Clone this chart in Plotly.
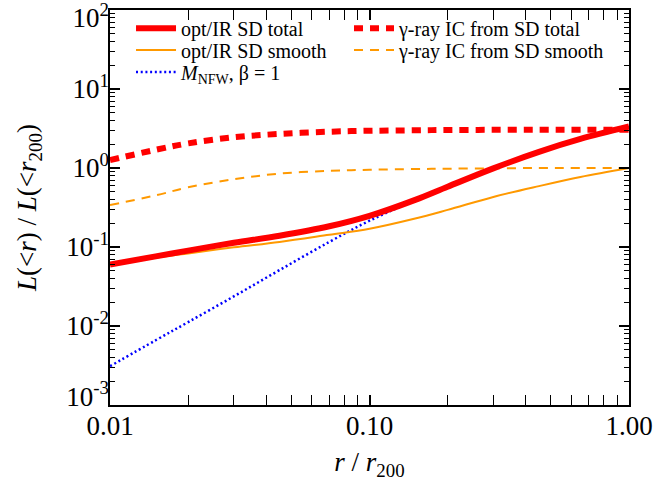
import plotly.graph_objects as go

# ---- data ----
r = [0.01, 0.015, 0.02, 0.03, 0.045, 0.07, 0.1, 0.15, 0.2, 0.3, 0.45, 0.65, 1.0]
opt_total = [0.060, 0.076, 0.090, 0.113, 0.139, 0.183, 0.248, 0.395, 0.58, 0.99, 1.60, 2.33, 3.35]
opt_smooth = [0.059, 0.073, 0.083, 0.099, 0.116, 0.143, 0.170, 0.229, 0.295, 0.43, 0.59, 0.77, 1.0]
gamma_total = [1.26, 1.70, 2.05, 2.45, 2.70, 2.88, 2.96, 3.00, 3.03, 3.04, 3.05, 3.05, 3.05]
gamma_smooth = [0.34, 0.45, 0.57, 0.72, 0.85, 0.92, 0.95, 0.97, 0.98, 0.99, 1.0, 1.0, 1.0]
nfw = [0.0031, 0.0066, 0.0112, 0.0237, 0.051, 0.116, 0.215, 0.39, 0.57, 0.98, 1.58, 2.3, 3.3]

x_tickvals = [0.01, 0.1, 1.0]
x_ticktext = ["0.01", "0.10", "1.00"]
y_exponents = [-3, -2, -1, 0, 1, 2]

RED = "#ff0000"
ORANGE = "#ff9900"
BLUE = "#0000ff"
FONT = "Liberation Serif"

fig = go.Figure()
fig.add_trace(go.Scatter(x=r, y=nfw, mode="lines", name="<i>M</i><sub>NFW</sub>, β = 1",
                         line=dict(color=BLUE, width=2.5, dash="2px,2.7px"), line_shape="spline",
                         legend="legend3"))
fig.add_trace(go.Scatter(x=r, y=opt_smooth, mode="lines", name="opt/IR SD smooth",
                         line=dict(color=ORANGE, width=2), line_shape="spline",
                         legend="legend2"))
fig.add_trace(go.Scatter(x=r, y=gamma_smooth, mode="lines", name="γ-ray IC from SD smooth",
                         line=dict(color=ORANGE, width=2, dash="9px,7px"), line_shape="spline",
                         legend="legend5"))
fig.add_trace(go.Scatter(x=r, y=gamma_total, mode="lines", name="γ-ray IC from SD total",
                         line=dict(color=RED, width=6, dash="9px,7px"), line_shape="spline",
                         legend="legend4"))
# thick red solid on the overlaid (identical-range) axis so it is drawn on top of the rest
fig.add_trace(go.Scatter(x=r, y=opt_total, mode="lines", name="opt/IR SD total",
                         line=dict(color=RED, width=6), line_shape="spline",
                         legend="legend", yaxis="y2"))

x_minor = [m * 10.0 ** e for e in (-2, -1) for m in range(2, 10)]
y_minor = [m * 10.0 ** e for e in range(-3, 2) for m in range(2, 10)]

fig.update_xaxes(
    type="log", range=[-2, 0],
    tickmode="array", tickvals=x_tickvals, ticktext=x_ticktext,
    ticks="inside", ticklen=10, tickwidth=1.5, tickcolor="black",
    minor=dict(tickmode="array", tickvals=x_minor, ticks="inside", ticklen=5, tickwidth=1.2,
               tickcolor="black", showgrid=False),
    showline=True, linecolor="black", linewidth=1.5, mirror="allticks",
    showgrid=False, zeroline=False,
    tickfont=dict(family=FONT, size=27, color="black"),
    ticklabelstandoff=-4, ticklabeloverflow="allow",
    automargin=False,
    title=dict(text="<i>r</i> / <i>r</i><sub>200</sub>", font=dict(family=FONT, size=27, color="black"),
               standoff=12),
)

# primary y axis: frame and ticks
fig.update_layout(yaxis=dict(
    type="log", range=[-3, 2],
    tickmode="array", tickvals=[10.0 ** e for e in y_exponents],
    showticklabels=False,
    ticks="inside", ticklen=10, tickwidth=1.5, tickcolor="black",
    minor=dict(tickmode="array", tickvals=y_minor, ticks="inside", ticklen=5, tickwidth=1.2,
               tickcolor="black", showgrid=False),
    showline=True, linecolor="black", linewidth=1.5, mirror="allticks",
    showgrid=False, zeroline=False, automargin=False,
))

# overlaid axis with the same range carries the labels; end labels nudged inside the frame
label_pos = []
for e in y_exponents:
    if e == y_exponents[-1]:
        label_pos.append(10.0 ** (e - 0.10))
    elif e == y_exponents[0]:
        label_pos.append(10.0 ** (e + 0.11))
    else:
        label_pos.append(10.0 ** e)

fig.update_layout(yaxis2=dict(
    overlaying="y", side="left", anchor="x",
    type="log", range=[-3, 2],
    tickmode="array", tickvals=label_pos,
    ticktext=[f"10<sup>{e}</sup>" for e in y_exponents],
    ticks="", showline=False, showgrid=False, zeroline=False, automargin=False,
    ticklabeloverflow="allow",
    tickfont=dict(family=FONT, size=27, color="black"),
    title=dict(text="<i>L</i>(&lt;<i>r</i>) / <i>L</i>(&lt;<i>r</i><sub>200</sub>)",
               font=dict(family=FONT, size=27, color="black"), standoff=21),
))

def leg(x, y):
    return dict(x=x, y=y, xanchor="left", yanchor="middle", orientation="v",
                itemwidth=40,
                font=dict(family=FONT, size=20, color="black"),
                bgcolor="rgba(0,0,0,0)", borderwidth=0)

fig.update_layout(
    width=656, height=487,
    font=dict(family=FONT, size=20, color="black"),
    margin=dict(l=110, r=27, t=10, b=82, autoexpand=False),
    plot_bgcolor="white", paper_bgcolor="white",
    showlegend=True,
    legend=leg(0.0405, 0.954),
    legend2=leg(0.0405, 0.899),
    legend3=leg(0.0405, 0.843),
    legend4=leg(0.4605, 0.954),
    legend5=leg(0.4605, 0.899),
)

fig.write_html("out.html")
